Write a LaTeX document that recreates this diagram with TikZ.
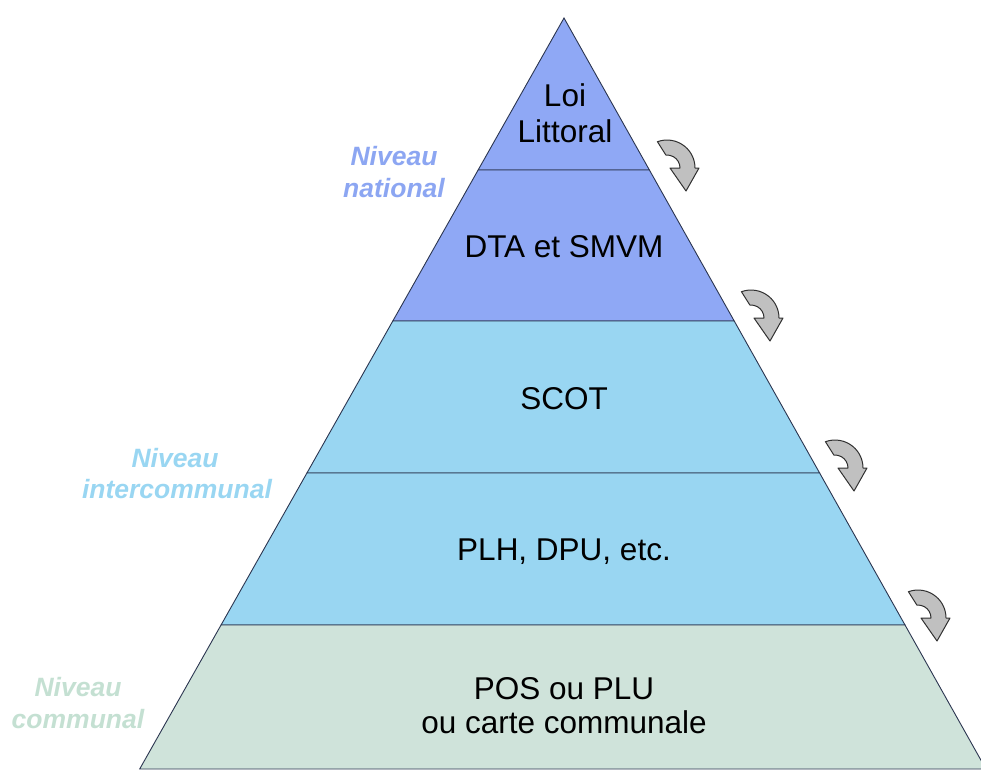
\documentclass[tikz,border=0pt]{standalone}
\usepackage{fontspec}
\setmainfont{Liberation Sans}
\definecolor{natfill}{HTML}{8FA8F5}
\definecolor{interfill}{HTML}{99D6F2}
\definecolor{comfill}{HTML}{CFE3DA}
\definecolor{natlab}{HTML}{8CA6F2}
\definecolor{interlab}{HTML}{99D6F2}
\definecolor{comlab}{HTML}{C4E0D2}
\definecolor{edge}{HTML}{2B3550}
\definecolor{arrfill}{HTML}{C0C0C0}
\definecolor{arredge}{HTML}{303030}
\tikzset{
  tier/.style={draw=edge, line width=0.9pt, line join=miter},
  maintext/.style={anchor=base, inner sep=0pt, font=\fontsize{31.5}{36}\selectfont},
  levellabel/.style={anchor=base, inner sep=0pt, font=\fontsize{26.5}{30}\selectfont\bfseries\itshape},
  turnarrow/.style={fill=arrfill, draw=arredge, line width=1pt, line join=round},
}
\newcommand{\turnarrowat}[2]{%
  \draw[turnarrow, shift={(#1,#2)}]
    (-110:28) arc[start angle=-110, end angle=0, radius=28]
    -- (32,0) -- (19,23) -- (3,0)
    -- (0:13) arc[start angle=0, end angle=-95, radius=13] -- cycle;}
\begin{document}
\begin{tikzpicture}[x=1pt, y=-1pt]
\useasboundingbox (0,0) rectangle (981,769);
\begin{scope}
\clip (0,0) rectangle (981,769);
% pyramid tiers: edge x(y) = 564 -/+ slope*(y-18)
\coordinate (apex) at (564,18);
\coordinate (l1) at ({564-0.565*152},170);
\coordinate (r1) at ({564+0.5618*152},170);
\coordinate (l2) at ({564-0.565*303},321);
\coordinate (r2) at ({564+0.5618*303},321);
\coordinate (l3) at ({564-0.565*455},473);
\coordinate (r3) at ({564+0.5618*455},473);
\coordinate (l4) at ({564-0.565*607},625);
\coordinate (r4) at ({564+0.5618*607},625);
\coordinate (l5) at ({564-0.565*751},769);
\coordinate (r5) at ({564+0.5618*751},769);
\draw[tier, fill=natfill] (apex) -- (r1) -- (l1) -- cycle;
\draw[tier, fill=natfill] (l1) -- (r1) -- (r2) -- (l2) -- cycle;
\draw[tier, fill=interfill] (l2) -- (r2) -- (r3) -- (l3) -- cycle;
\draw[tier, fill=interfill] (l3) -- (r3) -- (r4) -- (l4) -- cycle;
\draw[tier, fill=comfill] (l4) -- (r4) -- (r5) -- (l5) -- cycle;
\end{scope}
% tier texts
\node[maintext] (loi) at (565,106) {Loi};
\node[maintext] (littoral) at (565,142) {Littoral};
\node[maintext] (dta) at (564,257) {DTA et SMVM};
\node[maintext] (scot) at (564,409) {SCOT};
\node[maintext] (plh) at (564,560) {PLH, DPU, etc.};
\node[maintext] (pos) at (564,699) {POS ou PLU};
\node[maintext] (carte) at (564,733) {ou carte communale};
% level labels
\node[levellabel, text=natlab] (nat1) at (394,165) {Niveau};
\node[levellabel, text=natlab] (nat2) at (394,197) {national};
\node[levellabel, text=interlab] (int1) at (175,467) {Niveau};
\node[levellabel, text=interlab] (int2) at (177,498) {intercommunal};
\node[levellabel, text=comlab] (com1) at (78,696) {Niveau};
\node[levellabel, text=comlab] (com2) at (78,728) {communal};
% curved arrows
\turnarrowat{667}{168}
\turnarrowat{751}{318}
\turnarrowat{835}{468}
\turnarrowat{918}{618}
\end{tikzpicture}
\end{document}
